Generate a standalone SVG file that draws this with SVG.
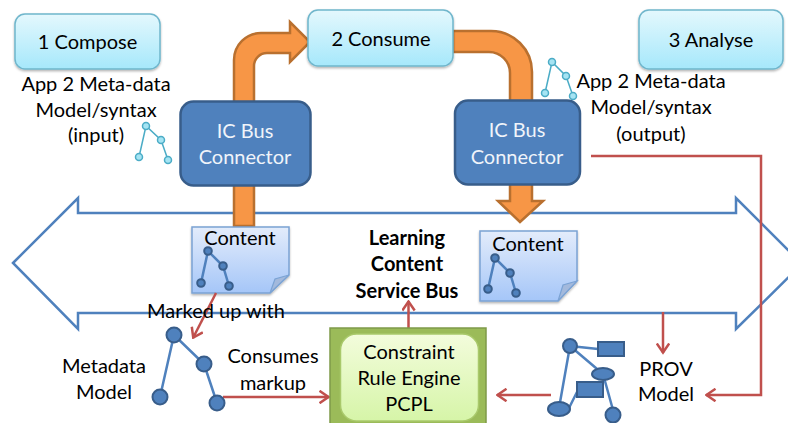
<svg xmlns="http://www.w3.org/2000/svg" width="788" height="423" viewBox="0 0 788 423">
<style>
text{font-family:Lato,"Liberation Sans",sans-serif;font-size:20px;fill:#000;text-anchor:middle}
.w{fill:#f0f4fa}
.b{font-weight:bold;font-size:20px}
.step{fill:url(#cy);stroke:#6fb6cc;stroke-width:1.5;filter:url(#sh)}
.conn{fill:#4f81bd;stroke:#385d8a;stroke-width:2.5}
.or{fill:#f79646;stroke:#b9702f;stroke-width:2.5;stroke-linejoin:miter}
.page{fill:url(#pg);stroke:#7ba3d4;stroke-width:1.5;filter:url(#sh)}
.fold{fill:#a3b9dc;stroke:#7ba3d4;stroke-width:1.2}
.bus{fill:#fff;stroke:#4f81bd;stroke-width:2.5}
.red{fill:none;stroke:#c0504d;stroke-width:2.5}
.tl{fill:none;stroke:#4bacc6;stroke-width:1.5}
.tn{fill:#a5e4f3;stroke:#4bacc6;stroke-width:1.5}
.dl{fill:none;stroke:#4f81bd;stroke-width:2.5}
.dn{fill:#4f81bd;stroke:#385d8a;stroke-width:2}
</style>
<defs>
<linearGradient id="cy" x1="0" y1="0" x2="0" y2="1"><stop offset="0" stop-color="#e4f8fd"/><stop offset="1" stop-color="#a6e8fb"/></linearGradient>
<linearGradient id="pg" x1="0" y1="0" x2="0" y2="1"><stop offset="0" stop-color="#e3ecfb"/><stop offset="1" stop-color="#a5c6f8"/></linearGradient>
<linearGradient id="gr" x1="0" y1="0" x2="0" y2="1"><stop offset="0" stop-color="#f3fcdc"/><stop offset="1" stop-color="#d6f5a8"/></linearGradient>
<filter id="sh" x="-10%" y="-10%" width="120%" height="125%"><feDropShadow dx="0" dy="1.5" stdDeviation="1.2" flood-color="#000" flood-opacity="0.3"/></filter>
<marker id="ah" viewBox="0 0 12 14" refX="10.5" refY="7" markerWidth="12" markerHeight="14" markerUnits="userSpaceOnUse" orient="auto"><path d="M1 0.8 L10 7 L1 13.2" fill="none" stroke="#c0504d" stroke-width="2.5"/></marker>
</defs>

<g id="bus"><path class="bus" d="M13 263 L78 198 V213 H736 V198 L802 264 L736 329 V313 H78 V329 Z"/></g>

<g id="orange-arrows">
<path class="or" d="M234 226 V60 A27 27 0 0 1 261 33 H290 V22 L310 42 L290 62 V53 H267 A13 13 0 0 0 254 66 V226 Z"/>
<path class="or" d="M453 31 H491 A41 41 0 0 1 532 72 V201 H543 L520 222 L498 201 H510 V73 A21 21 0 0 0 489 52 H453 Z"/>
</g>

<g id="step-1"><rect class="step" x="15" y="14" width="145" height="55" rx="10"/><text x="87.500" y="49">1 Compose</text></g>
<g id="step-2"><rect class="step" x="308" y="10" width="145" height="56" rx="10"/><text x="381" y="46">2 Consume</text></g>
<g id="step-3"><rect class="step" x="639" y="10" width="144" height="59" rx="10"/><text x="711" y="47">3 Analyse</text></g>

<g id="input-label"><text x="96" y="91">App 2 Meta-data</text><text x="96" y="117">Model/syntax</text><text x="96" y="142">(input)</text></g>
<g id="input-tree"><path class="tl" d="M139 157 L146 126 L161 140 L168 160"/><circle class="tn" cx="146" cy="126" r="3.500"/><circle class="tn" cx="161" cy="140" r="3.500"/><circle class="tn" cx="139" cy="157" r="3.500"/><circle class="tn" cx="168" cy="160" r="3.500"/></g>

<g id="output-label"><text x="651" y="88">App 2 Meta-data</text><text x="651" y="114">Model/syntax</text><text x="651" y="141">(output)</text></g>
<g id="output-tree"><path class="tl" d="M545 93 L552 62 L566 76 L573 96"/><circle class="tn" cx="552" cy="62" r="3.500"/><circle class="tn" cx="566" cy="76" r="3.500"/><circle class="tn" cx="545" cy="93" r="3.500"/><circle class="tn" cx="573" cy="96" r="3.500"/></g>

<g id="connector-1"><rect class="conn" x="180.500" y="101.500" width="130" height="84" rx="13"/><text class="w" x="245" y="138">IC Bus</text><text class="w" x="245" y="164">Connector</text></g>
<g id="connector-2"><rect class="conn" x="455" y="100.500" width="125" height="84" rx="13"/><text class="w" x="517" y="137">IC Bus</text><text class="w" x="517" y="164">Connector</text></g>

<g id="content-1"><path class="page" d="M192 227 H289 V275 L270 293 H192 Z"/><path class="fold" d="M289 275 L275 279 L270 293 Z"/><text x="240" y="245">Content</text>
<path class="dl" d="M201 283 L208 251 L223 266 L229 286"/><circle class="dn" cx="208" cy="251" r="3.800"/><circle class="dn" cx="223" cy="266" r="3.800"/><circle class="dn" cx="201" cy="283" r="3.800"/><circle class="dn" cx="229" cy="286" r="3.800"/></g>
<g id="content-2"><path class="page" d="M480 231 H577 V281 L558 301 H480 Z"/><path class="fold" d="M577 281 L563 285 L558 301 Z"/><text x="528" y="251">Content</text>
<path class="dl" d="M488 289 L495 258 L510 273 L516 293"/><circle class="dn" cx="495" cy="258" r="3.800"/><circle class="dn" cx="510" cy="273" r="3.800"/><circle class="dn" cx="488" cy="289" r="3.800"/><circle class="dn" cx="516" cy="293" r="3.800"/></g>

<g id="service-bus"><text class="b" x="407" y="245">Learning</text><text class="b" x="407" y="271">Content</text><text class="b" x="407" y="298">Service Bus</text></g>

<g id="connectors">
<path class="red" d="M216 293 L193 338" marker-end="url(#ah)"/>
<path class="red" d="M223 397 H329" marker-end="url(#ah)"/>
<path class="red" d="M408.500 328 V301" marker-end="url(#ah)"/>
<path class="red" d="M551 395 H497" marker-end="url(#ah)"/>
<path class="red" d="M663 312 V353" marker-end="url(#ah)"/>
<path class="red" d="M591 156 H761 V395 H706" marker-end="url(#ah)"/>
</g>

<g id="marked-up"><text x="216" y="318">Marked up with</text></g>

<g id="metadata-model"><text x="104" y="373">Metadata</text><text x="104" y="399">Model</text>
<path class="dl" d="M160 397 L174 335 L204 364 L217 403"/><circle class="dn" cx="174" cy="335" r="7.500"/><circle class="dn" cx="204" cy="364" r="7.500"/><circle class="dn" cx="160" cy="397" r="7.500"/><circle class="dn" cx="217" cy="403" r="7.500"/></g>

<g id="consumes"><text x="273" y="363">Consumes</text><text x="273" y="390">markup</text></g>

<g id="engine"><rect x="330" y="328" width="156" height="110" fill="#9bbb59" stroke="#7f9a49" stroke-width="1.500"/><rect x="340.500" y="334" width="138" height="87" rx="16" fill="url(#gr)" stroke="#a9c96b" stroke-width="1.500"/>
<text x="409" y="359">Constraint</text><text x="409" y="385">Rule Engine</text><text x="409" y="411">PCPL</text></g>

<g id="prov-graph"><path class="dl" d="M570 346 L598 349 M570 346 L603 374 M570 346 L559 408 M569 408 L577 392 M603 374 L613 410"/>
<rect class="dn" x="598" y="342" width="26" height="14"/><rect class="dn" x="577" y="382" width="26" height="15"/><circle class="dn" cx="570" cy="346" r="7"/><ellipse class="dn" cx="603" cy="374" rx="11" ry="6"/><ellipse class="dn" cx="559" cy="409" rx="11" ry="7"/><circle class="dn" cx="613" cy="415" r="7.500"/></g>

<g id="prov-model"><text x="666" y="376">PROV</text><text x="666" y="401">Model</text></g>
</svg>
